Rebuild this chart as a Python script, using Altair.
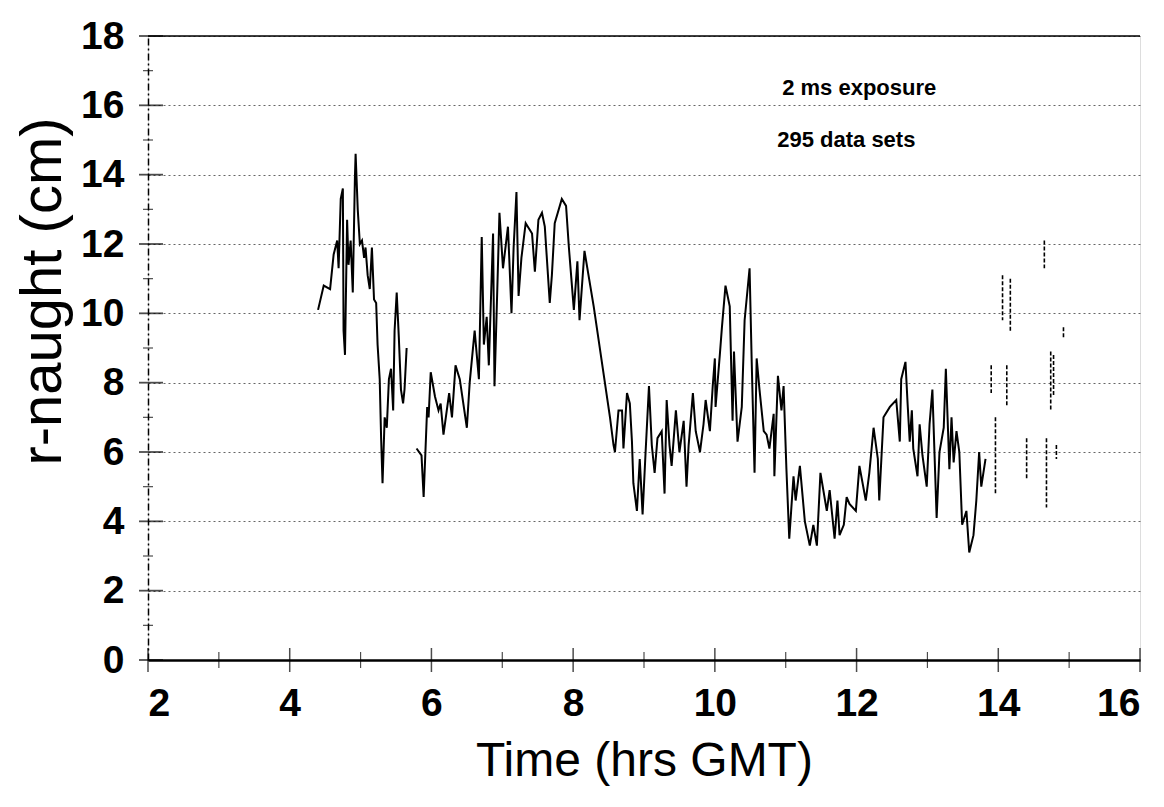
import altair as alt
import pandas as pd

# ---- data ----
seg1_hours = [4.40, 4.48, 4.57, 4.62, 4.67, 4.69, 4.72, 4.75, 4.76, 4.78, 4.81, 4.83, 4.86, 4.89,
              4.92, 4.93, 4.96, 4.99, 5.02, 5.05, 5.07, 5.10, 5.13, 5.16, 5.19, 5.22, 5.24, 5.27,
              5.29, 5.31, 5.34, 5.37, 5.40, 5.43, 5.46, 5.48, 5.51, 5.54, 5.57, 5.60, 5.62, 5.65]
seg1_r = [10.1, 10.8, 10.7, 11.7, 12.1, 11.3, 13.3, 13.6, 9.5, 8.8, 12.7, 11.4, 12.1, 10.6,
          13.9, 14.6, 13.0, 12.0, 12.1, 11.6, 11.9, 11.1, 10.7, 11.9, 10.4, 10.3, 9.1, 8.1,
          6.4, 5.1, 7.0, 6.7, 8.1, 8.4, 7.2, 9.5, 10.6, 9.3, 7.8, 7.4, 7.8, 9.0]

seg2_hours = [5.79, 5.86, 5.89, 5.94, 5.96, 5.99, 6.05, 6.10, 6.13, 6.17, 6.25, 6.29, 6.34, 6.40,
              6.50, 6.54, 6.61, 6.67, 6.71, 6.74, 6.78, 6.81, 6.87, 6.89, 6.92, 6.96, 7.01, 7.08,
              7.13, 7.16, 7.20, 7.23, 7.27, 7.33, 7.42, 7.46, 7.51, 7.56, 7.60, 7.67, 7.70, 7.74,
              7.84, 7.90, 7.94, 8.01, 8.06, 8.09, 8.16, 8.29, 8.52, 8.57, 8.59, 8.64, 8.69, 8.71,
              8.76, 8.80, 8.83, 8.85, 8.90, 8.94, 8.98, 9.02, 9.07, 9.11, 9.15, 9.19, 9.25, 9.29,
              9.32, 9.36, 9.39, 9.45, 9.50, 9.56, 9.60, 9.63, 9.69, 9.73, 9.79, 9.84, 9.87, 9.93,
              9.97, 10.00, 10.01, 10.07, 10.10, 10.15, 10.21, 10.25, 10.27, 10.32, 10.38, 10.42,
              10.49, 10.52, 10.56, 10.59, 10.63, 10.69, 10.73, 10.77, 10.83, 10.84, 10.89, 10.94,
              10.97, 11.01, 11.05, 11.11, 11.14, 11.20, 11.27, 11.34, 11.39, 11.44, 11.49, 11.58,
              11.62, 11.69, 11.73, 11.76, 11.82, 11.86, 11.90, 11.99, 12.04, 12.13, 12.18, 12.24,
              12.30, 12.32, 12.38, 12.47, 12.56, 12.61, 12.63, 12.69, 12.72, 12.75, 12.78, 12.80,
              12.86, 12.89, 12.93, 12.99, 13.03, 13.07, 13.13, 13.17, 13.23, 13.26, 13.31, 13.34,
              13.37, 13.41, 13.45, 13.49, 13.55, 13.59, 13.65, 13.69, 13.73, 13.76, 13.82]
seg2_r = [6.1, 5.9, 4.7, 7.3, 7.0, 8.3, 7.6, 7.2, 7.4, 6.5, 7.7, 7.0, 8.5, 8.1,
          6.7, 8.0, 9.5, 8.1, 12.2, 9.1, 9.9, 8.5, 12.3, 7.9, 10.0, 12.9, 11.3, 12.5,
          10.0, 11.9, 13.5, 10.5, 11.6, 12.6, 12.3, 11.2, 12.7, 12.9, 12.5, 10.3, 11.1, 12.6,
          13.3, 13.1, 11.9, 10.1, 11.5, 9.8, 11.8, 10.2, 7.0, 6.2, 6.0, 7.2, 7.2, 6.1,
          7.7, 7.4, 6.3, 5.1, 4.3, 5.8, 4.2, 5.9, 7.9, 6.2, 5.4, 6.4, 6.6, 4.8,
          7.5, 6.2, 5.6, 7.2, 6.0, 6.9, 5.0, 6.2, 7.7, 6.6, 6.0, 6.8, 7.5, 6.6,
          7.9, 8.7, 7.3, 8.8, 9.6, 10.8, 10.2, 6.9, 8.9, 6.3, 7.3, 9.8,
          11.3, 8.6, 5.4, 8.7, 7.8, 6.6, 6.5, 6.1, 7.1, 5.3, 8.2, 7.2,
          7.9, 5.5, 3.5, 5.3, 4.6, 5.6, 4.0, 3.3, 3.9, 3.3, 5.4, 4.3,
          4.9, 3.5, 4.6, 3.6, 3.9, 4.7, 4.5, 4.3, 5.6, 4.6, 5.4, 6.7,
          5.8, 4.6, 7.0, 7.3, 7.5, 6.3, 8.1, 8.6, 7.4, 6.3, 7.2, 6.1,
          5.3, 6.8, 5.9, 5.0, 6.8, 7.8, 4.1, 6.0, 6.7, 8.4, 5.5, 7.0,
          5.7, 6.6, 6.0, 3.9, 4.3, 3.1, 3.6, 4.6, 6.0, 5.0, 5.8]

# faint, broken strokes at the end of the record
tail_hours = [13.90, 13.96, 14.06, 14.12, 14.17, 14.40, 14.65, 14.68, 14.74, 14.78, 14.82, 14.92]
tail_top = [8.5, 7.0, 11.1, 8.5, 11.0, 6.4, 12.1, 6.4, 8.9, 8.8, 6.2, 9.6]
tail_bottom = [7.7, 4.8, 9.8, 7.3, 9.5, 5.2, 11.3, 4.4, 7.2, 7.6, 5.8, 9.3]

x_major = [2, 4, 6, 8, 10, 12, 14, 16]
x_minor = [3, 5, 7, 9, 11, 13, 15]
y_major = [0, 2, 4, 6, 8, 10, 12, 14, 16, 18]
y_minor = [1, 3, 5, 7, 9, 11, 13, 15, 17]

notes = ["2 ms exposure", "295 data sets"]
note_hours = [10.95, 10.88]
note_r = [16.5, 15.0]

# ---- tables ----
line_df = pd.DataFrame({
    "hour": seg1_hours + seg2_hours,
    "r": seg1_r + seg2_r,
    "seg": [1] * len(seg1_hours) + [2] * len(seg2_hours),
})
tail_df = pd.DataFrame({"hour": tail_hours, "top": tail_top, "bottom": tail_bottom})
xmaj_df = pd.DataFrame({"hour": x_major})
xmin_df = pd.DataFrame({"hour": x_minor})
ymaj_df = pd.DataFrame({"r": y_major})
ymin_df = pd.DataFrame({"r": y_minor})
note_df = pd.DataFrame({"text": notes, "hour": note_hours, "r": note_r})

FONT = "Liberation Sans"
xscale = alt.Scale(domain=[2, 16], nice=False, zero=False)
yscale = alt.Scale(domain=[0, 18], nice=False)

x_axis = alt.Axis(values=x_major, format="d", title="Time (hrs GMT)", grid=False, ticks=False,
                  labelFontSize=39, labelFontWeight="bold", labelPadding=24,
                  titleFontSize=48, titlePadding=14,
                  titleFontWeight="normal", domainColor="black", domainWidth=2.5,
                  labelColor="black", titleColor="black", labelFont=FONT, titleFont=FONT)
y_axis = alt.Axis(values=y_major, format="d", title="r-naught (cm)", grid=True, gridDash=[2, 3],
                  gridColor="#666666", gridWidth=1, ticks=False,
                  labelFontSize=39, labelFontWeight="bold", labelPadding=24,
                  titleFontSize=58, titlePadding=8, titleY=255,
                  titleFontWeight="normal", domainColor="black", domainWidth=1.5,
                  domainDash=[7, 3, 2, 3], labelColor="black", titleColor="black",
                  labelFont=FONT, titleFont=FONT)

line = alt.Chart(line_df).mark_line(color="black", strokeWidth=2).encode(
    x=alt.X("hour:Q", scale=xscale, axis=x_axis),
    y=alt.Y("r:Q", scale=yscale, axis=y_axis),
    detail="seg:N",
    order="hour:Q",
)

tail = alt.Chart(tail_df).mark_rule(color="black", strokeWidth=1.6, strokeDash=[4, 2]).encode(
    x="hour:Q", y="top:Q", y2="bottom:Q"
)

top_rule = alt.Chart(ymaj_df).transform_filter(alt.datum.r == 18).mark_rule(
    color="black", strokeWidth=1.5).encode(y="r:Q")

xt_major = alt.Chart(xmaj_df).mark_tick(orient="vertical", size=24, thickness=1.5,
                                        color="black").encode(x="hour:Q", y=alt.datum(0))
xt_minor = alt.Chart(xmin_df).mark_tick(orient="vertical", size=16, thickness=1.2,
                                        color="black").encode(x="hour:Q", y=alt.datum(0))
yt_major = alt.Chart(ymaj_df).mark_tick(orient="horizontal", size=24, thickness=1.8,
                                        color="black", xOffset=3).encode(x=alt.datum(2), y="r:Q")
yt_minor = alt.Chart(ymin_df).mark_tick(orient="horizontal", size=10, thickness=1.2,
                                        color="black").encode(x=alt.datum(2), y="r:Q")

text = alt.Chart(note_df).mark_text(align="left", baseline="middle", fontSize=22,
                                    fontWeight="bold", font=FONT, color="black").encode(
    x="hour:Q", y="r:Q", text="text:N")

chart = alt.layer(top_rule, line, tail, xt_major, xt_minor, yt_major, yt_minor, text).properties(
    width=992, height=624,
    padding={"left": 14, "top": 17, "right": 0, "bottom": 5},
).configure_view(stroke=None).configure(background="white", font=FONT)

chart.save("out.html", embed_options={"renderer": "svg", "actions": False})
